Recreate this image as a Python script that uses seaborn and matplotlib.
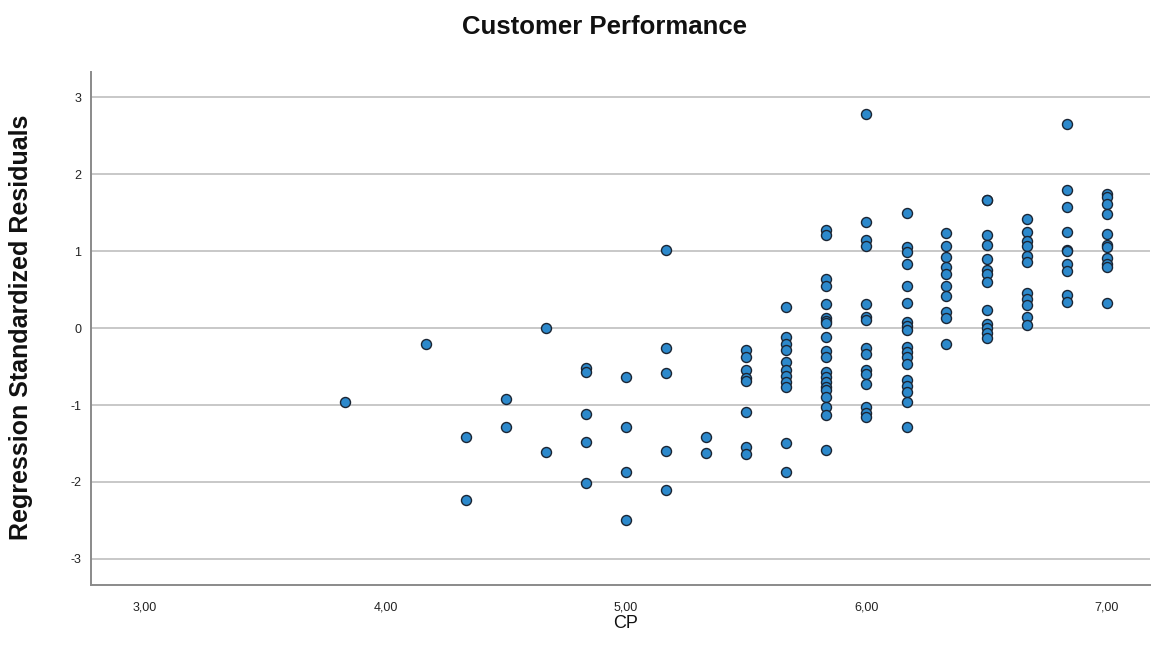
import matplotlib
matplotlib.use("Agg")
import matplotlib.pyplot as plt
import seaborn as sns
import pandas as pd

# CP scores (mean of six items) and the standardized residuals observed at each score
cp_levels = [3.833, 4.167, 4.333, 4.5, 4.667, 4.833, 5.0, 5.167, 5.333, 5.5,
             5.667, 5.833, 6.0, 6.167, 6.333, 6.5, 6.667, 6.833, 7.0]

residuals = [
    [-0.96],
    [-0.21],
    [-1.41, -2.23],
    [-0.92, -1.28],
    [0.00, -1.61],
    [-0.52, -0.57, -1.12, -1.48, -2.01],
    [-0.63, -1.29, -1.87, -2.49],
    [1.01, -0.26, -0.59, -1.60, -2.11],
    [-1.41, -1.63],
    [-0.29, -0.37, -0.55, -0.65, -0.69, -1.09, -1.54, -1.64],
    [0.28, -0.11, -0.21, -0.28, -0.44, -0.55, -0.62, -0.70, -0.76, -1.49, -1.87],
    [1.27, 1.21, 0.64, 0.55, 0.31, 0.13, 0.09, 0.06, -0.11, -0.30, -0.37,
     -0.57, -0.63, -0.70, -0.76, -0.80, -0.89, -1.03, -1.13, -1.58],
    [2.79, 1.38, 1.15, 1.07, 0.31, 0.15, 0.10, -0.26, -0.34, -0.55, -0.60,
     -0.73, -1.03, -1.10, -1.16],
    [1.50, 1.05, 0.99, 0.83, 0.55, 0.33, 0.08, 0.03, -0.03, -0.24, -0.31,
     -0.37, -0.47, -0.68, -0.75, -0.83, -0.96, -1.29],
    [1.24, 1.07, 0.92, 0.80, 0.71, 0.55, 0.42, 0.21, 0.13, -0.21],
    [1.67, 1.66, 1.21, 1.08, 0.90, 0.76, 0.70, 0.60, 0.23, 0.05, 0.00, -0.06, -0.13],
    [1.42, 1.25, 1.13, 1.07, 0.94, 0.86, 0.46, 0.38, 0.30, 0.15, 0.04],
    [2.65, 1.79, 1.58, 1.25, 1.02, 1.00, 0.84, 0.74, 0.43, 0.34],
    [1.75, 1.70, 1.61, 1.49, 1.22, 1.08, 1.06, 0.91, 0.84, 0.80, 0.33],
]

x_ticks = [3, 4, 5, 6, 7]
x_tick_labels = ["3,00", "4,00", "5,00", "6,00", "7,00"]
y_ticks = [-3, -2, -1, 0, 1, 2, 3]
y_tick_labels = ["-3", "-2", "-1", "0", "1", "2", "3"]

rows = [(cp, r) for cp, vals in zip(cp_levels, residuals) for r in vals]
df = pd.DataFrame(rows, columns=["CP", "Residual"])

sns.set_theme(style="white")
plt.rcParams["font.family"] = ["Liberation Sans", "DejaVu Sans"]

fig = plt.figure(figsize=(11.58, 6.51), dpi=100)
ax = fig.add_axes([0.0786, 0.1014, 0.9144, 0.7880])

ax.yaxis.grid(True, color="#c4c4c4", linewidth=1.3, zorder=0)
ax.xaxis.grid(False)
ax.set_axisbelow(True)

sns.scatterplot(data=df, x="CP", y="Residual", ax=ax, s=52,
                color="#2c89cc", edgecolor="#1b2533", linewidth=1.0,
                zorder=3, legend=False)

ax.set_xlim(2.775, 7.179)
ax.set_ylim(-3.34, 3.33)
ax.set_xticks(x_ticks)
ax.set_xticklabels(x_tick_labels)
ax.set_yticks(y_ticks)
ax.set_yticklabels(y_tick_labels)
ax.tick_params(axis="both", length=0, labelsize=9, labelcolor="#222222")
ax.tick_params(axis="x", pad=12)
ax.tick_params(axis="y", pad=7)

for side in ["top", "right"]:
    ax.spines[side].set_visible(False)
for side in ["left", "bottom"]:
    ax.spines[side].set_color("#8a8a8a")
    ax.spines[side].set_linewidth(1.4)

ax.set_xlabel("")
ax.set_ylabel("")
fig.text(626 / 1158, 1 - 623 / 651, "CP", ha="center", va="center",
         fontsize=13, color="#111111")
fig.text(21 / 1158, 1 - 327 / 651, "Regression Standardized Residuals",
         ha="center", va="center", rotation=90,
         fontsize=18, fontweight="bold", color="#111111")
fig.text(604 / 1158, 1 - 27 / 651, "Customer Performance", ha="center", va="center",
         fontsize=18.5, fontweight="bold", color="#111111")

fig.savefig("out.png", dpi=100)
